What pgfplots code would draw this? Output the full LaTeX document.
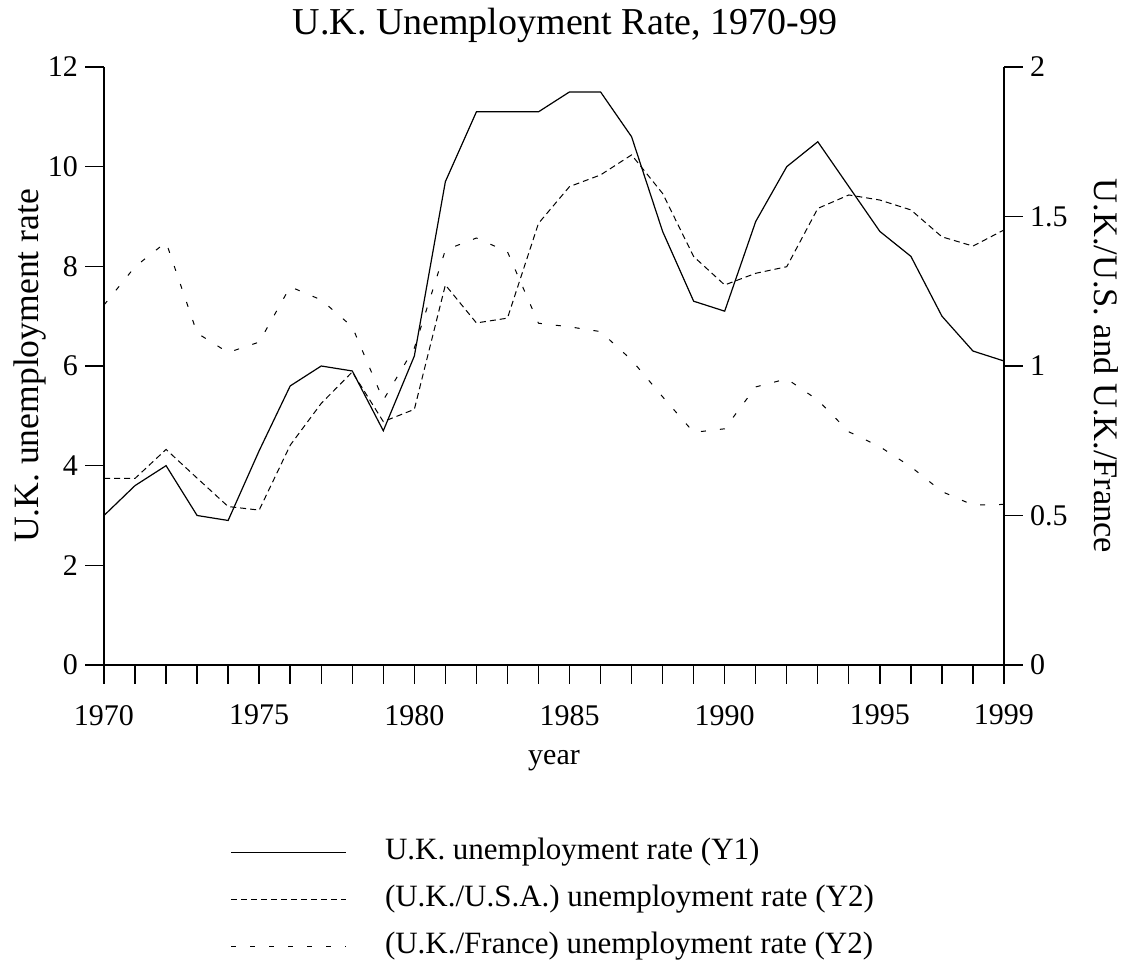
\documentclass[border=0pt]{standalone}
\usepackage{fontspec}
\setmainfont{Liberation Serif}
\usepackage{pgfplots}
\usepackage{pgfplotstable}
\pgfplotsset{compat=1.18}

\pgfplotstableread{
year uk usa fra
1970 3.0 0.624 1.204
1971 3.6 0.624 1.332
1972 4.0 0.721 1.414
1973 3.0 0.625 1.110
1974 2.9 0.530 1.045
1975 4.3 0.518 1.080
1976 5.6 0.735 1.265
1977 6.0 0.875 1.221
1978 5.9 0.980 1.131
1979 4.7 0.814 0.886
1980 6.2 0.855 1.060
1981 9.7 1.271 1.388
1982 11.1 1.144 1.428
1983 11.1 1.160 1.382
1984 11.1 1.477 1.143
1985 11.5 1.600 1.131
1986 11.5 1.639 1.115
1987 10.6 1.706 1.020
1988 8.7 1.577 0.897
1989 7.3 1.366 0.778
1990 7.1 1.271 0.790
1991 8.9 1.310 0.930
1992 10.0 1.332 0.957
1993 10.5 1.527 0.886
1994 9.6 1.572 0.780
1995 8.7 1.555 0.730
1996 8.2 1.522 0.663
1997 7.0 1.432 0.580
1998 6.3 1.401 0.535
1999 6.1 1.455 0.537
}\data

\begin{document}
\begin{tikzpicture}[font=\fontsize{15}{18}\selectfont]
\useasboundingbox (-52pt,-148.5pt) rectangle (513pt,332.5pt);
\pgfplotsset{
  common/.style={
    width=450pt, height=299pt, scale only axis,
    xmin=1970, xmax=1999,
    tick align=outside,
    major tick length=9.5pt, minor tick length=9.5pt,
    /pgf/number format/assume math mode=true,
    /pgf/number format/1000 sep={},
    tick style={black, line width=0.7pt},
    axis line style={black, line width=0.7pt},
    font=\fontsize{15}{18}\selectfont,
    every tick label/.append style={font=\fontsize{15}{18}\selectfont},
  }
}
\begin{axis}[common,
  axis x line*=bottom, axis y line*=left,
  ymin=0, ymax=12, ytick={0,2,...,12},
  xtick={1970,1975,1980,1985,1990,1995,1999},
  minor xtick={1971,...,1998},
  x tick label style={yshift=-7pt},
  xlabel={year}, ylabel={U.K. unemployment rate},
  title={U.K. Unemployment Rate, 1970-99},
  every axis x label/.style={at={([yshift=-48pt]axis description cs:0.5,0)}, anchor=center},
  every axis y label/.style={at={([xshift=-37pt]axis description cs:0,0.5)}, anchor=center, rotate=90, font=\fontsize{17.8}{21}\selectfont},
  every axis title/.style={at={([xshift=5.5pt,yshift=21pt]axis description cs:0.5,1)}, anchor=center, font=\fontsize{19}{23}\selectfont},
]
\addplot[black, line width=0.6pt] table[x=year,y=uk]{\data};
\end{axis}
\begin{axis}[common,
  axis x line=none, axis y line*=right,
  ymin=0, ymax=2, ytick={0,0.5,1,1.5,2},
  ylabel={U.K./U.S. and U.K./France},
  every axis y label/.style={at={([xshift=51pt]axis description cs:1,0.5)}, anchor=center, rotate=-90, font=\fontsize{17.2}{21}\selectfont},
  legend cell align=left,
  legend image code/.code={\draw[#1] (0pt,0pt) -- (57.5pt,0pt); \path[draw=none,fill=none] (0pt,0pt) -- (77pt,0pt);},
  legend style={draw=none, fill=none, inner sep=0pt,
    at={([xshift=63pt,yshift=-86pt]axis description cs:0,0)}, anchor=north west,
    row sep=8.5pt,
    nodes={inner sep=0pt, text height=11pt, text depth=4pt},
    font=\fontsize{15.5}{18}\selectfont},
]
\addlegendimage{black, line width=0.6pt}
\addlegendentry{U.K. unemployment rate (Y1)}
\addplot[black, line width=0.5pt, dash pattern=on 3pt off 2pt] table[x=year,y=usa]{\data};
\addlegendentry{(U.K./U.S.A.) unemployment rate (Y2)}
\addplot[black, line width=0.5pt, dash pattern=on 2.5pt off 7pt] table[x=year,y=fra]{\data};
\addlegendentry{(U.K./France) unemployment rate (Y2)}
\end{axis}
\end{tikzpicture}
\end{document}
